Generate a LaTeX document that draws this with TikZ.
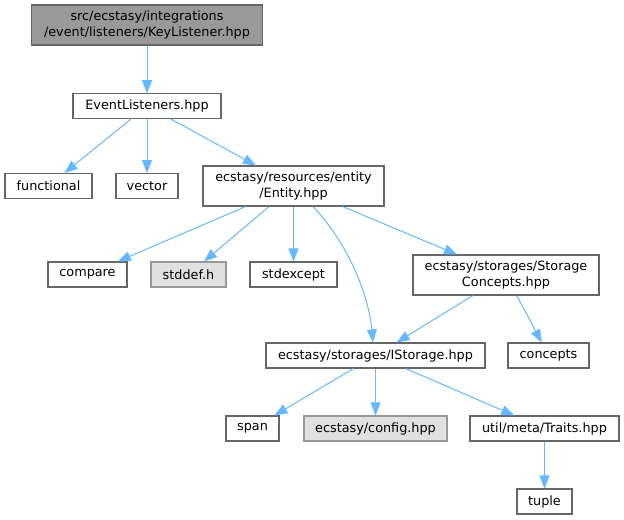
\documentclass[tikz,border=0pt]{standalone}
\usepackage{fontspec}
\setmainfont{DejaVu Sans}
\usetikzlibrary{arrows.meta,calc}
\definecolor{edgeblue}{HTML}{63B8FF}
\definecolor{bordergray}{HTML}{666666}
\definecolor{lightborder}{HTML}{999999}
\definecolor{keyfill}{HTML}{999999}
\definecolor{sysfill}{HTML}{E0E0E0}
\tikzset{
  box/.style={draw=bordergray, line width=0.8pt, fill=white, inner sep=0pt, align=center,
    font=\fontsize{9.6pt}{11.7pt}\selectfont, text=black},
  keybox/.style={box, fill=keyfill},
  sysbox/.style={box, draw=lightborder, fill=sysfill},
  dep/.style={draw=edgeblue, line width=0.75pt, -{Triangle[length=9.75pt,width=7.5pt]}}
}
\begin{document}
\begin{tikzpicture}[x=0.75pt,y=-0.75pt]
\useasboundingbox (0,0) rectangle (624,520);
\node[keybox, minimum width=231*0.75pt, minimum height=40*0.75pt] (key) at (147,25) {src/ecstasy/integrations\\/event/listeners/KeyListener.hpp};
\node[box, minimum width=148*0.75pt, minimum height=24.5*0.75pt] (ev) at (147,106) {EventListeners.hpp};
\node[box, minimum width=87*0.75pt, minimum height=25*0.75pt] (func) at (48.5,186) {functional};
\node[box, minimum width=62*0.75pt, minimum height=25*0.75pt] (vec) at (147,186) {vector};
\node[box, minimum width=181*0.75pt, minimum height=40*0.75pt] (ent) at (293.5,186) {ecstasy/resources/entity\\/Entity.hpp};
\node[box, minimum width=79*0.75pt, minimum height=25*0.75pt] (cmp) at (87.5,274.5) {compare};
\node[sysbox, minimum width=75*0.75pt, minimum height=25*0.75pt] (sdh) at (188.5,274.5) {stddef.h};
\node[box, minimum width=87*0.75pt, minimum height=25*0.75pt] (sde) at (293.5,274.5) {stdexcept};
\node[box, minimum width=186*0.75pt, minimum height=40*0.75pt] (sc) at (506,275) {ecstasy/storages/Storage\\Concepts.hpp};
\node[box, minimum width=219*0.75pt, minimum height=25*0.75pt] (ist) at (375.5,355.5) {ecstasy/storages/IStorage.hpp};
\node[box, minimum width=81*0.75pt, minimum height=25*0.75pt] (con) at (548.5,355.5) {concepts};
\node[box, minimum width=53*0.75pt, minimum height=25*0.75pt] (span) at (252.5,428.5) {span};
\node[sysbox, minimum width=143*0.75pt, minimum height=25*0.75pt] (cfg) at (375.5,428.5) {ecstasy/config.hpp};
\node[box, minimum width=149*0.75pt, minimum height=25*0.75pt] (tr) at (544.5,428.5) {util/meta/Traits.hpp};
\node[box, minimum width=55*0.75pt, minimum height=25*0.75pt] (tup) at (544.5,501.5) {tuple};

\draw[dep] (key) -- (ev);
\draw[dep] (ev) -- (func);
\draw[dep] (ev) -- (vec);
\draw[dep] (ev) -- (ent);
\draw[dep] (ent) -- (cmp);
\draw[dep] (ent) -- (sdh);
\draw[dep] (ent) -- (sde);
\draw[dep] ($(ent.south)+(19.5,0)$) .. controls (345,240) and (368,290) .. ($(ist.north)+(-2.5,0)$);
\draw[dep] (ent) -- (sc);
\draw[dep] (sc) -- (ist);
\draw[dep] (sc) -- (con);
\draw[dep] (ist) -- (span);
\draw[dep] (ist) -- (cfg);
\draw[dep] (ist) -- (tr);
\draw[dep] (tr) -- (tup);
\end{tikzpicture}
\end{document}
